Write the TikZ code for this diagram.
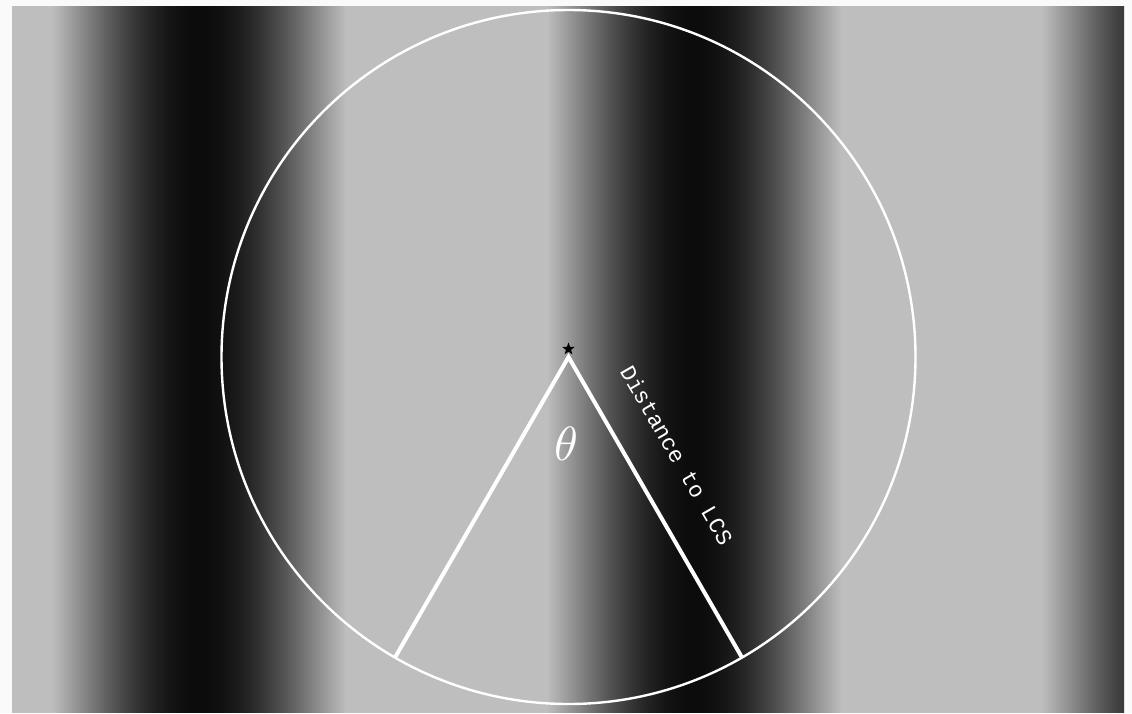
\documentclass[tikz,border=0pt]{standalone}
\usepackage{fontspec}
\newfontfamily\labelmono{Liberation Mono}
\usetikzlibrary{shapes.geometric}
\tikzset{
  wedgeline/.style={draw=white, line width=4pt, line join=miter},
  ringnode/.style={circle, draw=white, line width=2.4pt, minimum size=694pt, inner sep=0pt, outer sep=0pt},
  starmark/.style={star, star points=5, star point ratio=2.4, fill=black, minimum size=13pt, inner sep=0pt},
  whitelabel/.style={text=white, inner sep=0pt}
}
\begin{document}
\begin{tikzpicture}[x=1pt,y=-1pt]
\useasboundingbox (0,0) rectangle (1132,713);
\fill[white!98!black] (0,0) rectangle (1132,713);
\begin{scope}
  \clip (12,6) rectangle (1124,713);
  \foreach \x in {12,14,...,1122} {
    \pgfmathsetmacro\g{min(0.745,0.5856+0.5386*cos((\x+1-447)/495*360))}
    \pgfmathsetmacro\p{100*(1-\g)}
    \fill[black!\p] (\x,6) rectangle (\x+2.6,713);
  }
\end{scope}
\node[ringnode] (c) at (568.5,357) {};
\draw[wedgeline] (c.240) -- (c.center) -- (c.300);
\node[starmark] (s) at (568.5,349) {};
\node[whitelabel, scale=4.8] (th) at (566,444) {$\theta$};
\node[whitelabel, rotate=-60, font=\labelmono\fontsize{22.5}{24}\selectfont] (d) at (677,455) {Distance to LCS};
\end{tikzpicture}
\end{document}
